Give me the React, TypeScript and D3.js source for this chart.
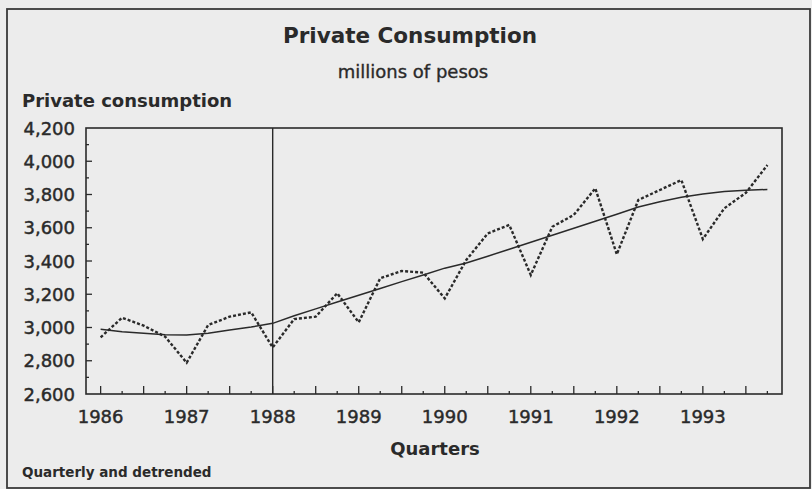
import React from "react";
import * as d3 from "d3";

const quarters: number[] = Array.from({ length: 32 }, (_, i) => 1986 + i / 4);
const consumption: number[] = [
  2941, 3059, 3011, 2945, 2788, 3015, 3065, 3091,
  2880, 3051, 3065, 3206, 3031, 3296, 3340, 3330,
  3175, 3406, 3566, 3617, 3316, 3606, 3677, 3837,
  3440, 3767, 3827, 3887, 3532, 3717, 3810, 3977,
];
const trend: number[] = [
  2989, 2975, 2965, 2957, 2955, 2965, 2985, 3003,
  3025, 3071, 3112, 3153, 3194, 3235, 3276, 3316,
  3357, 3388, 3429, 3471, 3513, 3555, 3597, 3639,
  3681, 3725, 3757, 3783, 3803, 3818, 3826, 3830,
];
const yTicks: number[] = [2600, 2800, 3000, 3200, 3400, 3600, 3800, 4000, 4200];
const yMinorTicks: number[] = [2700, 2800, 2900, 3000, 3100, 3200, 3300, 3400, 3500, 3600, 3700, 3800, 3900, 4000, 4100];
const xYears: number[] = [1986, 1987, 1988, 1989, 1990, 1991, 1992, 1993];
const markerYear = 1988;

const W = 812;
const H = 489;
const plot = { left: 86, right: 782, top: 128, bottom: 394 };
const ink = "#2a2a2a";
const font = "'DejaVu Sans', 'Liberation Sans', Arial, sans-serif";

export default function App() {
  const x = d3.scaleLinear().domain([1985.83, 1993.92]).range([plot.left, plot.right]);
  const y = d3.scaleLinear().domain([2600, 4200]).range([plot.bottom, plot.top]);
  const line = d3
    .line<number>()
    .x((_, i) => x(quarters[i]))
    .y((d) => y(d));

  const halfYearTicks = d3.range(0, 16).map((i) => 1986 + i / 2);
  const quarterTicks = d3.range(0, 16).map((i) => 1986.25 + i / 2);

  return (
    <div style={{ position: "fixed", left: 0, top: 0, width: W, height: H }}>
      <svg width={W} height={H} style={{ display: "block" }}>
        <rect x={0} y={0} width={W} height={H} fill="#ededed" />
        <rect x={7} y={9} width={803} height={479} fill="#ececec" stroke="#3a3a3a" strokeWidth={1.8} />

        <text x={410} y={43} textAnchor="middle" fontFamily={font} fontWeight="bold" fontSize={21.5} fill={ink}>
          Private Consumption
        </text>
        <text x={413} y={78} textAnchor="middle" fontFamily={font} fontSize={18} fill={ink} stroke={ink} strokeWidth={0.35}>
          millions of pesos
        </text>
        <text x={22} y={107} fontFamily={font} fontWeight="bold" fontSize={18} fill={ink}>
          Private consumption
        </text>

        {/* y tick labels */}
        {yTicks.map((t) => (
          <text key={t} x={75} y={y(t) + 6.5} textAnchor="end" fontFamily={font} fontSize={18} fill={ink} stroke={ink} strokeWidth={0.45}>
            {d3.format(",")(t)}
          </text>
        ))}
        {/* y ticks */}
        {yMinorTicks.map((t) => (
          <line
            key={t}
            x1={plot.left}
            x2={plot.left + (t % 200 === 0 ? 6 : 3)}
            y1={y(t)}
            y2={y(t)}
            stroke={ink}
            strokeWidth={1.3}
          />
        ))}
        {/* x ticks */}
        {halfYearTicks.map((t) => (
          <line key={"h" + t} x1={x(t)} x2={x(t)} y1={plot.bottom} y2={plot.bottom - 8} stroke={ink} strokeWidth={1.3} />
        ))}
        {quarterTicks.map((t) => (
          <line key={"q" + t} x1={x(t)} x2={x(t)} y1={plot.bottom} y2={plot.bottom - 3} stroke={ink} strokeWidth={1.3} />
        ))}
        {xYears.map((t) => (
          <text key={t} x={x(t)} y={423} textAnchor="middle" fontFamily={font} fontSize={18} fill={ink} stroke={ink} strokeWidth={0.45}>
            {t}
          </text>
        ))}

        <text x={435} y={455} textAnchor="middle" fontFamily={font} fontWeight="bold" fontSize={18} fill={ink}>
          Quarters
        </text>
        <text x={22} y={477} fontFamily={font} fontWeight="bold" fontSize={13.5} fill={ink}>
          Quarterly and detrended
        </text>

        {/* marker line */}
        <line x1={x(markerYear)} x2={x(markerYear)} y1={plot.top} y2={plot.bottom} stroke={ink} strokeWidth={1.4} />

        {/* series */}
        <path d={line(trend) || ""} fill="none" stroke={ink} strokeWidth={1.5} />
        <path d={line(consumption) || ""} fill="none" stroke={ink} strokeWidth={2.4} strokeDasharray="3 2" />

        {/* plot frame */}
        <rect
          x={plot.left}
          y={plot.top}
          width={plot.right - plot.left}
          height={plot.bottom - plot.top}
          fill="none"
          stroke={ink}
          strokeWidth={1.6}
        />
      </svg>
    </div>
  );
}
